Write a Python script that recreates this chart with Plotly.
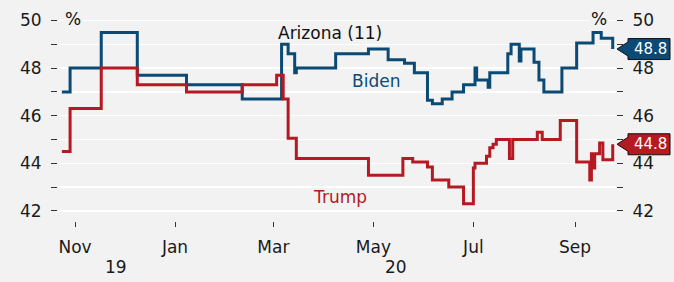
import plotly.graph_objects as go

# ---- data ----
biden_dates = ['2019-10-24', '2019-10-29', '2019-11-17', '2019-12-09', '2020-01-08',
               '2020-02-11', '2020-03-06', '2020-03-10', '2020-03-14', '2020-03-15',
               '2020-04-08', '2020-04-28', '2020-05-10', '2020-05-20', '2020-05-26',
               '2020-06-03', '2020-06-06', '2020-06-12', '2020-06-18', '2020-06-25',
               '2020-07-02', '2020-07-03', '2020-07-10', '2020-07-11', '2020-07-22',
               '2020-07-24', '2020-07-29', '2020-07-30', '2020-08-07', '2020-08-10',
               '2020-08-13', '2020-08-24', '2020-09-02', '2020-09-12', '2020-09-17',
               '2020-09-24']
biden_values = [47.0, 48.0, 49.5, 47.7, 47.3,
                46.7, 49.0, 48.6, 47.8, 48.0,
                48.6, 48.8, 48.35, 48.2, 47.8,
                46.65, 46.5, 46.7, 47.0, 47.3,
                48.0, 47.5, 47.2, 47.8, 48.6,
                49.0, 48.3, 48.8, 48.25, 47.5,
                47.0, 48.0, 49.05, 49.5, 49.25,
                48.8]

trump_dates = ['2019-10-24', '2019-10-29', '2019-11-17', '2019-12-09', '2020-01-08',
               '2020-02-11', '2020-03-03', '2020-03-07', '2020-03-10', '2020-03-15',
               '2020-04-28', '2020-05-19', '2020-05-25', '2020-06-03', '2020-06-06',
               '2020-06-16', '2020-06-25', '2020-07-01', '2020-07-02', '2020-07-09',
               '2020-07-11', '2020-07-13', '2020-07-15', '2020-07-23', '2020-07-25',
               '2020-08-09', '2020-08-12', '2020-08-23', '2020-09-02', '2020-09-10',
               '2020-09-11', '2020-09-12', '2020-09-13', '2020-09-16', '2020-09-18',
               '2020-09-24']
trump_values = [44.5, 46.3, 48.0, 47.3, 47.0,
                47.3, 47.7, 46.7, 45.05, 44.2,
                43.5, 44.2, 44.05, 43.85, 43.3,
                43.0, 42.3, 43.8, 44.0, 44.3,
                44.65, 44.8, 45.0, 44.2, 45.0,
                45.3, 45.0, 45.8, 44.05, 43.3,
                44.4, 43.8, 44.4, 44.85, 44.15,
                44.8]

y_ticks = [42, 43, 44, 45, 46, 47, 48, 49, 50]
y_ticktext = ['42', '', '44', '', '46', '', '48', '', '50']
title_text = 'Arizona (11)'
biden_last = '48.8'
trump_last = '44.8'

BLUE = '#0b4a74'
RED = '#b51a22'
BG = '#f2f2f2'
FONT = 'DejaVu Sans'

# plot area in pixels: x 58..616, y 13..221
L, R, T, B = 58, 616, 13, 221
W, H = 674, 282
def xp(px):
    return (px - L) / (R - L)
def yp(py):
    return (B - py) / (B - T)

fig = go.Figure()
fig.add_trace(go.Scatter(x=biden_dates, y=biden_values, mode='lines',
                         line=dict(color=BLUE, width=3, shape='hv'),
                         showlegend=False, hoverinfo='skip'))
fig.add_trace(go.Scatter(x=trump_dates, y=trump_values, mode='lines',
                         line=dict(color=RED, width=3, shape='hv'),
                         showlegend=False, hoverinfo='skip'))
# invisible copy so the right axis is drawn
fig.add_trace(go.Scatter(x=trump_dates, y=trump_values, mode='lines', yaxis='y2',
                         line=dict(color='rgba(0,0,0,0)', width=0),
                         showlegend=False, hoverinfo='skip'))

yr = [41.576, 50.315]
axis_font = dict(family=FONT, size=17, color='#1a1a1a')

fig.update_layout(
    width=W, height=H,
    margin=dict(l=L, r=W - R, t=T, b=H - B, autoexpand=False),
    paper_bgcolor=BG, plot_bgcolor=BG,
    font=dict(family=FONT, color='#1a1a1a'),
    xaxis=dict(range=['2019-10-21 15:00', '2020-09-26'], type='date',
               tick0='2019-11-01', dtick='M2', tickformat='%b',
               showgrid=False, zeroline=False, showline=False,
               ticks='outside', ticklen=5, tickwidth=1, tickcolor='#333',
               tickfont=axis_font, ticklabelstandoff=6),
    yaxis=dict(range=yr, tickvals=y_ticks, ticktext=y_ticktext,
               showgrid=True, gridcolor='white', gridwidth=1.5,
               zeroline=False, showline=False,
               ticks='outside', ticklen=6, tickwidth=1, tickcolor='#333',
               tickfont=axis_font, ticklabelstandoff=6),
    yaxis2=dict(range=yr, tickvals=y_ticks, ticktext=y_ticktext,
                overlaying='y', side='right', showgrid=False,
                zeroline=False, showline=False,
                ticks='outside', ticklen=6, tickwidth=1, tickcolor='#333',
                tickfont=axis_font, ticklabelstandoff=6),
)

# dashed 50 line
fig.add_shape(type='line', xref='paper', yref='y', x0=0, x1=1, y0=50, y1=50,
              line=dict(color='#333', width=1, dash='3px,3px'), layer='below')

# value boxes on the right
def value_box(val, color, text):
    tip = xp(617)
    left = xp(628)
    right = xp(670)
    a = 7 / 23.8
    h = 10.5 / 23.8
    path = (f'M {tip},{val} L {left},{val + a} L {left},{val + h} L {right},{val + h} '
            f'L {right},{val - h} L {left},{val - h} L {left},{val - a} Z')
    fig.add_shape(type='path', xref='paper', yref='y', path=path,
                  fillcolor=color, line=dict(color='#111', width=1), layer='above')
    fig.add_annotation(xref='paper', yref='y', x=xp(650), y=val, text=text,
                       showarrow=False, font=dict(family=FONT, size=15, color='white'),
                       xanchor='center', yanchor='middle')

value_box(float(biden_last), BLUE, biden_last)
value_box(float(trump_last), RED, trump_last)

def label(px, py, text, color, size=17, bg=None):
    fig.add_annotation(xref='paper', yref='paper', x=xp(px), y=yp(py), text=text,
                       showarrow=False, font=dict(family=FONT, size=size, color=color),
                       xanchor='center', yanchor='middle',
                       bgcolor=bg, borderpad=1)

label(330, 33, title_text, '#111', 17)
label(376, 81, 'Biden', BLUE, 17)
label(340, 197, 'Trump', RED, 17)
label(73, 19, '%', '#111', 17, BG)
label(599, 19, '%', '#111', 17, BG)
label(116, 267, '19', '#1a1a1a', 17)
label(396, 267, '20', '#1a1a1a', 17)

fig.write_html('out.html',
               config={'displayModeBar': False, 'staticPlot': True},
               post_script="document.body.style.margin='0';document.body.style.padding='0';"
                           "document.body.style.overflow='hidden';")
